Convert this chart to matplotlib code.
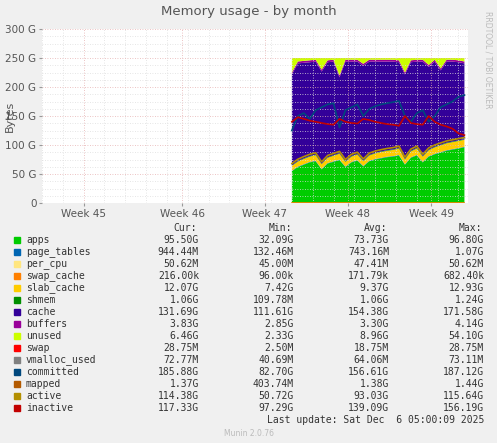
import numpy as np
import matplotlib
matplotlib.use("Agg")
import matplotlib.pyplot as plt

days = [21+0.5*i for i in range(30)]
apps = [55,62,66,70,72,58,68,71,74,62,70,73,63,72,75,77,79,80,82,66,78,82,70,80,84,87,90,92,94,96]
slab = [8,8.5,9,9,9.5,8,9,9.5,10,8,9,9.5,8,9,9.5,10,10,10.5,11,8,10,11,9,10,11,11.5,12,12,12,12]
unused = [25,6,5,4,3,20,4,3,30,3,3,3,10,3,3,3,3,3,4,25,4,3,3,12,3,18,3,3,4,6]
committed = [125,150,155,145,160,165,170,172,130,160,165,170,150,162,167,170,172,174,176,150,140,155,160,140,150,165,170,175,183,186]
inactive = [140,148,145,142,140,138,136,135,145,140,138,137,145,143,140,138,136,135,133,150,138,136,135,150,140,135,132,128,120,117]
total_top = 250

weeks = ["Week 45","Week 46","Week 47","Week 48","Week 49"]
week_pos = [3.5,11.8,18.7,25.7,32.7]

legend_names = ["apps","page_tables","per_cpu","swap_cache","slab_cache","shmem","cache","buffers","unused","swap","vmalloc_used","committed","mapped","active","inactive"]
legend_colors = ["#00CC00","#0066B3","#FFE680","#FF8000","#FFCC00","#008F00","#330099","#990099","#CCFF00","#FF0000","#808080","#00487D","#B35A00","#B38F00","#C20000"]
cur = ["95.50G","944.44M","50.62M","216.00k","12.07G","1.06G","131.69G","3.83G","6.46G","28.75M","72.77M","185.88G","1.37G","114.38G","117.33G"]
mn = ["32.09G","132.46M","45.00M","96.00k","7.42G","109.78M","111.61G","2.85G","2.33G","2.50M","40.69M","82.70G","403.74M","50.72G","97.29G"]
avg = ["73.73G","743.16M","47.41M","171.79k","9.37G","1.06G","154.38G","3.30G","8.96G","18.75M","64.06M","156.61G","1.38G","93.03G","139.09G"]
mx = ["96.80G","1.07G","50.62M","682.40k","12.93G","1.24G","171.58G","4.14G","54.10G","28.75M","73.11M","187.12G","1.44G","115.64G","156.19G"]

apps_a = np.array(apps, float); slab_a = np.array(slab, float); un = np.array(unused, float)
pt = np.full(30, 0.9); shm = np.full(30, 1.06); buf = np.full(30, 3.3)
cache = total_top - apps_a - pt - slab_a - shm - buf - un

W, H = 497, 443
fig = plt.figure(figsize=(W/100, H/100), dpi=100, facecolor="#F0F0F0")
ax = fig.add_axes([42/W, 1-203/H, 426/W, 174/H], facecolor="white")
ax.stackplot(days, apps_a, pt, slab_a, shm, cache, buf, un,
             colors=["#00CC00","#0066B3","#FFCC00","#008F00","#330099","#990099","#CCFF00"], linewidth=0)
ax.plot(days, committed, color="#00487D", lw=1.2)
ax.plot(days, inactive, color="#C20000", lw=1.2)
ax.plot(days, apps_a+slab_a+5, color="#B38F00", lw=1.2)
ax.plot(days, np.full(30, 0.5), color="#FF8000", lw=1.2)
ax.set_xlim(0, 35.8); ax.set_ylim(0, 300)
ax.set_yticks(range(0, 301, 50))
ax.set_yticklabels(["0"] + [f"{v} G" for v in range(50, 301, 50)], fontsize=7.5, color="#555555")
ax.set_xticks(week_pos); ax.set_xticklabels(weeks, fontsize=7.5, color="#555555")
ax.set_yticks(np.arange(0, 301, 12.5), minor=True)
ax.set_xticks(np.arange(0, 36, 1.75), minor=True)
ax.grid(True, which="both", color="#DDDDDD", ls=(0,(1,2)), lw=0.6)
ax.grid(True, which="major", color="#E6B0B0", ls=(0,(1,2)), lw=0.6)
ax.tick_params(which="major", length=2, colors="#999999", labelcolor="#555555", pad=2)
ax.tick_params(which="minor", length=0)
for s in ax.spines.values(): s.set_visible(False)
fig.text(10/W, 1-116/H, "Bytes", rotation=90, ha="center", va="center", fontsize=8, color="#555555")
fig.text(0.5, 1-12/H, "Memory usage - by month", ha="center", va="center", fontsize=9.5, color="#555555")
fig.text(488/W, 1-60/H, "RRDTOOL / TOBI OETIKER", rotation=270, ha="center", va="center", fontsize=5.5, color="#BBBBBB")

mono = "DejaVu Sans Mono"
y0 = 229
for x, t in ((197, "Cur:"), (292, "Min:"), (387, "Avg:"), (482, "Max:")):
    fig.text(x/W, 1-(y0-1)/H, t, ha="right", va="center", fontsize=7, family=mono, color="#333333")
for i, n in enumerate(legend_names):
    y = 1-(240+12*i)/H
    fig.patches.append(plt.Rectangle((14/W, y-3/H), 6/W, 6/H, transform=fig.transFigure, color=legend_colors[i]))
    fig.text(26/W, y, n, va="center", fontsize=7, family=mono, color="#333333")
    for x, arr in ((199, cur), (294, mn), (389, avg), (484, mx)):
        fig.text(x/W, y, arr[i], ha="right", va="center", fontsize=7, family=mono, color="#333333")
fig.text(484/W, 1-420/H, "Last update: Sat Dec  6 05:00:09 2025", ha="right", va="center", fontsize=7, family=mono, color="#333333")
fig.text(0.5, 1-434/H, "Munin 2.0.76", ha="center", va="center", fontsize=5.5, color="#BBBBBB")
fig.savefig("out.png", dpi=100, facecolor=fig.get_facecolor())
